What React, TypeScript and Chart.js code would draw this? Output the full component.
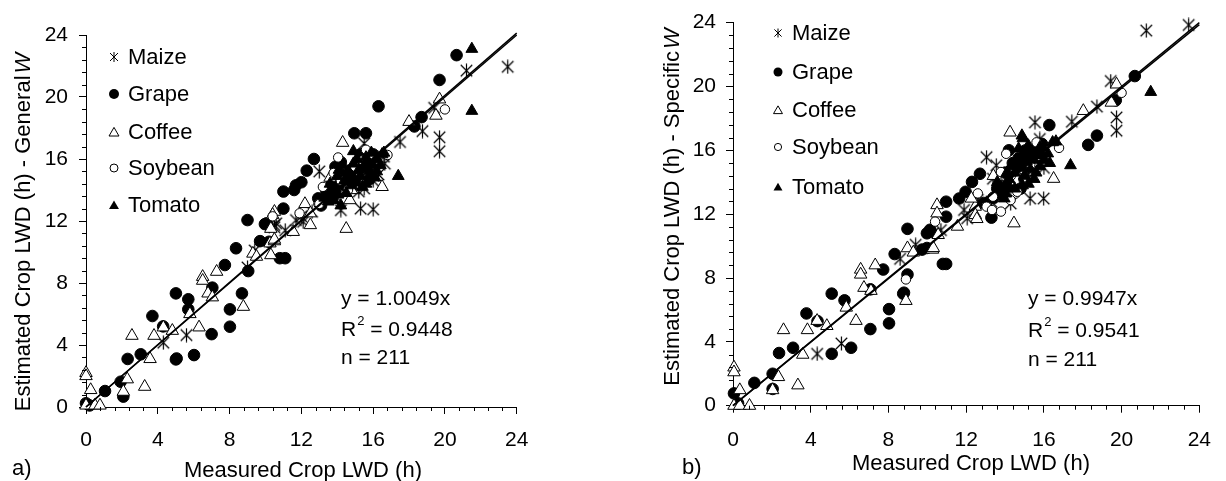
import React, { useEffect, useRef } from 'react';
import { Chart, registerables } from 'chart.js';
Chart.register(...registerables);

type P = [number, number];

const seriesNames = ['Maize', 'Grape', 'Coffee', 'Soybean', 'Tomato'];
const axisMax = 24;
const majorStep = 4;
const minorStep = 0.8;

// ---------- Panel a) General W ----------
const maizeA: P[] = [
  [4.31, 4.15], [5.6, 4.64], [9.0, 9.0], [9.4, 10.1], [10.6, 11.85], [10.5, 11.6], [11.7, 12.06], [12.1, 11.95],
  [12.0, 12.3], [13.0, 15.2], [13.97, 15.3], [14.2, 12.7], [15.3, 12.8], [16.0, 12.75], [15.5, 14.1], [15.2, 13.9],
  [16.0, 14.6], [15.5, 17.0], [16.65, 15.7], [17.5, 17.1], [18.75, 17.8], [19.4, 19.3], [19.7, 17.4], [19.7, 16.5],
  [21.2, 21.7], [23.5, 21.95], [14.6, 15.0], [15.0, 15.2], [13.5, 14.0], [16.3, 15.0], [14.0, 13.5], [12.6, 12.6],
  [11.1, 11.4], [16.6, 16.15], [10.5, 11.74],
];
const grapeA: P[] = [
  [0, 0.24], [0.2, 0.1], [1.06, 1.03], [1.93, 1.63], [2.08, 0.67], [2.32, 3.1], [3.05, 3.4], [3.7, 5.87],
  [4.3, 5.2], [5.01, 7.33], [5.01, 3.07], [5.7, 6.95], [5.7, 6.3], [6.02, 3.35], [7.0, 4.7], [7.04, 7.7],
  [7.74, 9.16], [8.02, 5.18], [8.02, 6.3], [8.36, 10.24], [8.69, 7.33], [9.04, 8.77], [9.7, 10.7], [10.2, 10.66],
  [10.8, 9.6], [11.1, 9.6], [9.0, 12.06], [10.07, 11.85], [11.0, 12.8], [11.0, 13.9], [11.6, 14.0], [11.7, 14.3],
  [12.0, 14.5], [12.3, 15.25], [12.7, 16.0], [14.95, 17.66], [15.6, 17.66], [16.3, 19.4], [18.3, 18.1], [18.7, 18.7],
  [19.7, 21.1], [20.65, 22.7], [12.94, 13.46], [13.7, 14.5], [13.8, 14.1], [9.97, 11.8], [14.5, 15.0], [15.0, 14.6],
  [13.9, 15.5], [14.4, 14.3], [15.6, 15.5], [5.05, 3.13], [14.2, 15.8], [15.3, 16.3], [13.4, 13.9], [14.8, 15.3],
  [15.8, 14.7], [13.1, 13.0], [14.6, 14.2], [16.0, 16.3],
];
const coffeeA: P[] = [
  [0, 2.2], [0, 2.0], [0, 0.1], [0.5, 0.1], [0.78, 0.1], [0.26, 1.1], [2.08, 0.99], [2.3, 1.79],
  [2.56, 4.6], [3.27, 1.31], [3.57, 3.1], [3.79, 4.6], [4.31, 5.14], [4.81, 4.92], [5.79, 6.0], [6.3, 5.14],
  [6.5, 8.4], [6.5, 8.15], [6.8, 7.33], [7.04, 7.08], [7.28, 8.73], [8.77, 6.47], [9.3, 9.9], [9.5, 9.7],
  [10.25, 10.56], [10.3, 9.8], [10.5, 10.7], [10.3, 11.5], [10.5, 12.6], [10.4, 12.4], [11.55, 11.3], [12.2, 13.1],
  [12.5, 12.5], [12.5, 11.74], [14.3, 17.05], [14.5, 11.5], [16.5, 14.2], [18.0, 18.4], [19.5, 18.8], [19.7, 19.85],
  [14.7, 13.35], [10.5, 10.8], [13.6, 14.8], [14.8, 14.0],
];
const soybeanA: P[] = [
  [10.4, 12.3], [12.95, 13.1], [14.05, 16.1], [15.6, 16.6], [16.8, 16.26], [20.0, 19.2], [13.8, 15.1], [14.6, 14.0],
  [13.0, 13.1], [15.0, 15.5], [14.2, 14.6], [13.2, 14.2], [15.4, 15.9], [16.0, 16.0], [11.9, 12.5],
];
const tomatoA: P[] = [
  [14.9, 16.5], [16.5, 16.3], [16.6, 16.4], [17.4, 14.9], [21.5, 23.1], [21.5, 19.1], [14.6, 15.2], [15.8, 15.2],
  [14.05, 13.7], [13.8, 13.35], [13.5, 13.25], [13.3, 13.5], [14.2, 13.0], [15.0, 14.5], [15.3, 14.9], [15.6, 14.4],
  [15.9, 15.0], [16.0, 15.6], [15.5, 15.6], [14.9, 15.7], [14.4, 14.6], [14.8, 14.3], [15.2, 15.3], [16.2, 15.2],
  [14.0, 14.9], [13.6, 14.4], [15.6, 16.1], [16.2, 16.0], [14.3, 15.6], [14.7, 14.8], [15.1, 16.0], [15.4, 14.2],
  [15.7, 15.8], [16.1, 14.8], [13.9, 14.1], [14.5, 13.8], [15.9, 16.4], [14.1, 15.3], [16.4, 15.6], [13.7, 13.7],
];
const slopeA = 1.0049;
const statsA = ['y = 1.0049x', '0.9448', 'n = 211'];

// ---------- Panel b) Specific W ----------
const maizeB: P[] = [
  [4.33, 3.25], [5.58, 3.9], [9.4, 10.08], [11.89, 12.26], [12.05, 11.74], [13.05, 15.57], [13.55, 15.06], [13.38, 14.22],
  [13.79, 13.91], [14.13, 13.81], [14.29, 12.67], [13.3, 12.78], [15.29, 12.98], [15.99, 12.98], [15.54, 17.75], [15.79, 16.71],
  [17.44, 17.79], [18.73, 18.74], [19.44, 20.34], [19.74, 18.06], [19.74, 17.23], [21.27, 23.5], [23.45, 23.85], [14.6, 14.8],
  [15.2, 14.5], [16.0, 14.9], [12.6, 12.9], [10.7, 11.0], [8.6, 9.2],
];
const grapeB: P[] = [
  [0.05, 0.77], [0.26, 0.15], [1.1, 1.43], [2.04, 2.0], [2.04, 1.05], [2.37, 3.3], [3.09, 3.63], [3.78, 5.78],
  [4.35, 5.3], [5.08, 7.02], [5.08, 3.25], [5.74, 6.6], [6.08, 3.63], [7.07, 7.29], [7.07, 4.8], [7.73, 8.53],
  [8.03, 6.05], [8.03, 5.16], [8.32, 9.5], [8.76, 7.02], [8.98, 8.22], [8.8, 7.08], [8.98, 11.08], [9.73, 9.78],
  [9.98, 10.8], [10.2, 10.9], [10.8, 8.88], [10.97, 8.88], [10.97, 12.78], [10.97, 11.84], [10.14, 11.02], [9.98, 9.88],
  [11.64, 12.98], [11.97, 13.4], [12.3, 14.02], [12.71, 14.53], [13.3, 11.78], [15.04, 15.99], [15.2, 15.57], [16.28, 17.58],
  [18.28, 16.34], [18.73, 16.92], [19.7, 19.13], [20.68, 20.65], [14.0, 14.6], [14.4, 15.2], [13.6, 13.6], [15.0, 14.2],
  [14.7, 15.5], [13.9, 13.2], [14.2, 16.0], [15.6, 15.9], [13.4, 13.0], [14.8, 13.6], [12.9, 12.7], [15.9, 16.4],
  [14.1, 13.7],
];
const coffeeB: P[] = [
  [0.05, 2.4], [0.05, 2.1], [0.05, 0], [0.35, 0], [0.85, 0], [0.35, 0.98], [2.04, 0.98], [2.34, 1.8],
  [2.6, 4.74], [3.34, 1.28], [3.59, 3.2], [3.83, 4.74], [4.33, 5.32], [4.83, 5.0], [5.83, 6.15], [6.33, 5.32],
  [6.57, 8.53], [6.57, 8.22], [6.74, 7.39], [7.1, 7.2], [7.32, 8.8], [8.9, 6.57], [8.98, 9.87], [9.28, 9.6],
  [10.27, 9.78], [10.5, 12.57], [10.5, 12.05], [10.56, 10.7], [10.31, 9.88], [11.55, 11.22], [12.47, 12.47], [12.47, 11.95],
  [12.27, 12.98], [12.55, 11.7], [14.26, 17.12], [14.46, 11.43], [16.5, 14.22], [18.03, 18.47], [19.47, 18.99], [19.74, 20.13],
  [15.0, 14.0], [13.4, 14.4],
];
const soybeanB: P[] = [
  [8.9, 7.91], [10.4, 11.53], [13.05, 12.47], [13.38, 13.09], [13.79, 12.16], [14.54, 13.29], [14.06, 15.78], [15.62, 16.5],
  [16.78, 16.15], [20.0, 19.6], [13.79, 14.64], [14.63, 13.4], [14.29, 12.88], [13.33, 12.26], [15.3, 15.1], [14.3, 14.4],
  [12.6, 13.3],
];
const tomatoB: P[] = [
  [14.87, 16.92], [14.92, 16.75], [16.45, 16.5], [16.62, 16.55], [17.37, 15.06], [21.5, 19.65], [13.96, 12.98], [13.79, 13.71],
  [14.04, 13.29], [14.5, 14.6], [14.8, 15.0], [15.1, 15.3], [15.5, 15.4], [15.8, 15.0], [15.6, 14.6], [15.0, 14.4],
  [14.6, 15.4], [15.3, 14.8], [16.0, 15.4], [15.4, 15.9], [14.2, 14.2], [14.9, 13.8], [16.2, 15.8], [15.8, 16.2],
  [14.5, 13.6], [14.3, 15.0], [14.7, 16.1], [15.2, 16.3], [15.9, 15.7], [14.1, 14.6], [14.9, 14.9], [15.5, 14.2],
  [16.3, 15.2], [13.6, 14.0], [15.2, 13.9],
];
const slopeB = 0.9947;
const statsB = ['y = 0.9947x', '0.9541', 'n = 211'];

const FONT = "'Liberation Sans', Arial, sans-serif";

function makeMaizeImage(size: number) {
  const c = document.createElement('canvas');
  c.width = size;
  c.height = size;
  const g = c.getContext('2d')!;
  const m = size / 2;
  const r = size / 2 - 0.5;
  g.strokeStyle = '#000';
  g.lineWidth = 1.2;
  g.beginPath();
  g.moveTo(m, m - r); g.lineTo(m, m + r);
  const d = r * 0.82;
  g.moveTo(m - d, m - d); g.lineTo(m + d, m + d);
  g.moveTo(m + d, m - d); g.lineTo(m - d, m + d);
  g.stroke();
  return c;
}

function drawMarker(ctx: CanvasRenderingContext2D, kind: number, x: number, y: number, s: number) {
  ctx.save();
  ctx.strokeStyle = '#000';
  ctx.fillStyle = '#000';
  ctx.lineWidth = 1;
  ctx.beginPath();
  if (kind === 0) {
    const d = s * 0.8;
    ctx.moveTo(x, y - s); ctx.lineTo(x, y + s);
    ctx.moveTo(x - d, y - d); ctx.lineTo(x + d, y + d);
    ctx.moveTo(x + d, y - d); ctx.lineTo(x - d, y + d);
    ctx.stroke();
  } else if (kind === 1 || kind === 3) {
    ctx.arc(x, y, kind === 1 ? s : s * 0.8, 0, Math.PI * 2);
    if (kind === 1) ctx.fill(); else ctx.stroke();
  } else {
    const r = s * 1.15;
    for (let i = 0; i < 3; i++) {
      const a = (i * 2 * Math.PI) / 3;
      const px = x + Math.sin(a) * r;
      const py = y - Math.cos(a) * r + r * 0.2;
      if (i === 0) ctx.moveTo(px, py); else ctx.lineTo(px, py);
    }
    ctx.closePath();
    if (kind === 4) ctx.fill(); else ctx.stroke();
  }
  ctx.restore();
}

interface PanelCfg {
  width: number;
  area: { left: number; right: number; top: number; bottom: number };
  series: P[][];
  slope: number;
  stats: string[];
  yTitleMain: string;
  yTitle: { x: number; y: number };
  xTitle: { x: number; y: number };
  tag: string;
  tagPos: { x: number; y: number };
  legend: { mx: number; tx: number; rows: number[]; ms: number };
  statsPos: { x: number; rows: number[] };
  yPad: number;
  xPad: number;
}

function decorPlugin(cfg: PanelCfg) {
  return {
    id: 'decor',
    afterDraw(chart: any) {
      const ctx: CanvasRenderingContext2D = chart.ctx;
      const xs = chart.scales.x;
      const ys = chart.scales.y;
      const { left, bottom } = chart.chartArea;
      ctx.save();
      ctx.strokeStyle = '#000';
      ctx.lineWidth = 1;
      ctx.beginPath();
      const n = Math.round(axisMax / minorStep);
      for (let i = 0; i <= n; i++) {
        if (i % 5 === 0) continue;
        const v = i * minorStep;
        const px = Math.round(xs.getPixelForValue(v)) + 0.5;
        ctx.moveTo(px, bottom);
        ctx.lineTo(px, bottom + 4);
        const py = Math.round(ys.getPixelForValue(v)) + 0.5;
        ctx.moveTo(left - 4, py);
        ctx.lineTo(left, py);
      }
      ctx.stroke();

      ctx.fillStyle = '#000';
      ctx.font = `22px ${FONT}`;
      ctx.textBaseline = 'middle';
      ctx.textAlign = 'left';
      seriesNames.forEach((name, i) => {
        const y = cfg.legend.rows[i];
        drawMarker(ctx, i, cfg.legend.mx, y, cfg.legend.ms);
        ctx.fillText(name, cfg.legend.tx, y + 1);
      });

      const sx = cfg.statsPos.x;
      ctx.font = `21px ${FONT}`;
      ctx.fillText(cfg.stats[0], sx, cfg.statsPos.rows[0]);
      ctx.fillText('R', sx, cfg.statsPos.rows[1]);
      const wR = ctx.measureText('R').width;
      ctx.font = `13px ${FONT}`;
      ctx.fillText('2', sx + wR + 1, cfg.statsPos.rows[1] - 9);
      const w2 = ctx.measureText('2').width;
      ctx.font = `21px ${FONT}`;
      ctx.fillText(' = ' + cfg.stats[1], sx + wR + w2 + 1, cfg.statsPos.rows[1]);
      ctx.fillText(cfg.stats[2], sx, cfg.statsPos.rows[2]);

      ctx.font = `22px ${FONT}`;
      ctx.textAlign = 'center';
      ctx.fillText('Measured Crop LWD (h)', cfg.xTitle.x, cfg.xTitle.y);
      ctx.textAlign = 'left';
      ctx.fillText(cfg.tag, cfg.tagPos.x, cfg.tagPos.y);

      ctx.save();
      ctx.translate(cfg.yTitle.x, cfg.yTitle.y);
      ctx.rotate(-Math.PI / 2);
      ctx.font = `22px ${FONT}`;
      const w1 = ctx.measureText(cfg.yTitleMain).width;
      ctx.font = `italic 22px ${FONT}`;
      const wW = ctx.measureText('W').width;
      const total = w1 + 2 + wW;
      ctx.textAlign = 'left';
      ctx.font = `22px ${FONT}`;
      ctx.fillText(cfg.yTitleMain, -total / 2, 0);
      ctx.font = `italic 22px ${FONT}`;
      ctx.fillText('W', -total / 2 + w1 + 2, 0);
      ctx.restore();

      ctx.restore();
    },
  };
}

function Panel({ cfg, left }: { cfg: PanelCfg; left: number }) {
  const ref = useRef<HTMLCanvasElement>(null);
  useEffect(() => {
    const maizeImg = makeMaizeImage(15);
    const styles: any[] = [
      { pointStyle: maizeImg, pointRadius: 7, backgroundColor: '#000', borderColor: '#000' },
      { pointStyle: 'circle', pointRadius: 5.8, backgroundColor: '#000', borderColor: '#000' },
      { pointStyle: 'triangle', pointRadius: 7.2, backgroundColor: '#fff', borderColor: '#000' },
      { pointStyle: 'circle', pointRadius: 4.7, backgroundColor: '#fff', borderColor: '#000' },
      { pointStyle: 'triangle', pointRadius: 6.8, backgroundColor: '#000', borderColor: '#000' },
    ];
    const datasets: any[] = [
      {
        type: 'line',
        data: [{ x: 0, y: 0 }, { x: axisMax, y: axisMax }],
        borderColor: '#000', borderWidth: 1.5, pointRadius: 0, showLine: true, order: 0, clip: false,
      },
      {
        type: 'line',
        data: [{ x: 0, y: 0 }, { x: axisMax, y: axisMax * cfg.slope }],
        borderColor: '#000', borderWidth: 1.5, pointRadius: 0, showLine: true, order: 0, clip: false,
      },
    ];
    cfg.series.forEach((s, i) => {
      datasets.push({
        type: 'scatter',
        label: seriesNames[i],
        data: s.map(([x, y]) => ({ x, y })),
        borderWidth: 1,
        order: 5 - i,
        clip: false,
        ...styles[i],
      });
    });
    const a = cfg.area;
    const H = 481;
    const chart = new Chart(ref.current!, {
      type: 'scatter',
      data: { datasets },
      options: {
        animation: false,
        responsive: false,
        devicePixelRatio: 1,
        events: [],
        layout: { padding: { left: 0, top: a.top, right: cfg.width - a.right, bottom: 0 } },
        plugins: { legend: { display: false }, tooltip: { enabled: false } },
        scales: {
          x: {
            type: 'linear', min: 0, max: axisMax,
            afterFit: (s: any) => { s.height = H - a.bottom; },
            ticks: { stepSize: majorStep, color: '#000', font: { family: FONT, size: 21 }, padding: cfg.xPad, maxRotation: 0 },
            grid: { display: true, drawOnChartArea: false, tickLength: 7, color: '#000' },
            border: { display: true, color: '#000', width: 1 },
          },
          y: {
            type: 'linear', min: 0, max: axisMax,
            afterFit: (s: any) => { s.width = a.left; },
            ticks: { stepSize: majorStep, color: '#000', font: { family: FONT, size: 21 }, padding: cfg.yPad },
            grid: { display: true, drawOnChartArea: false, tickLength: 7, color: '#000' },
            border: { display: true, color: '#000', width: 1 },
          },
        },
      } as any,
      plugins: [decorPlugin(cfg)],
    });
    return () => chart.destroy();
  }, [cfg]);
  return (
    <canvas
      ref={ref}
      width={cfg.width}
      height={481}
      style={{ position: 'absolute', left, top: 0, width: cfg.width, height: 481 }}
    />
  );
}

const cfgA: PanelCfg = {
  width: 610,
  area: { left: 86, right: 516.7, top: 35, bottom: 407 },
  series: [maizeA, grapeA, coffeeA, soybeanA, tomatoA],
  slope: slopeA,
  stats: statsA,
  yTitleMain: 'Estimated Crop LWD (h) - General',
  yTitle: { x: 24, y: 232 },
  xTitle: { x: 303, y: 471 },
  tag: 'a)',
  tagPos: { x: 12, y: 469 },
  legend: { mx: 114, tx: 128, rows: [57, 94, 132, 168, 205], ms: 5 },
  statsPos: { x: 341, rows: [299, 330, 358] },
  yPad: 11,
  xPad: 14,
};

const cfgB: PanelCfg = {
  width: 616,
  area: { left: 123, right: 605, top: 19, bottom: 405.7 },
  series: [maizeB, grapeB, coffeeB, soybeanB, tomatoB],
  slope: slopeB,
  stats: statsB,
  yTitleMain: 'Estimated Crop LWD (h) - Specific',
  yTitle: { x: 63, y: 207 },
  xTitle: { x: 361, y: 464 },
  tag: 'b)',
  tagPos: { x: 72, y: 468 },
  legend: { mx: 168, tx: 182, rows: [33, 72, 110, 147, 187], ms: 4.5 },
  statsPos: { x: 418, rows: [299, 331, 360] },
  yPad: 10,
  xPad: 15,
};

export default function App() {
  return (
    <div style={{ position: 'fixed', left: 0, top: 0, width: 1226, height: 481, background: '#fff', overflow: 'hidden' }}>
      <Panel cfg={cfgA} left={0} />
      <Panel cfg={cfgB} left={610} />
    </div>
  );
}
